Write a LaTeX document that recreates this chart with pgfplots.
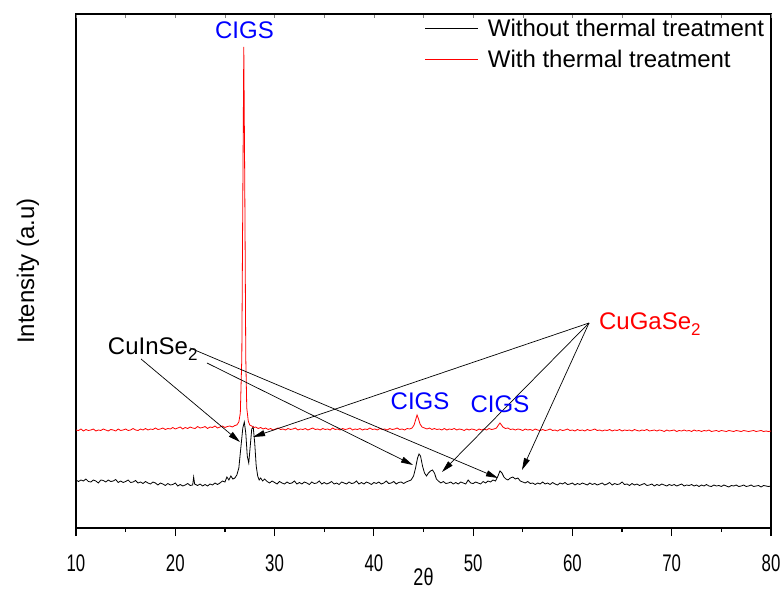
\documentclass[border=0pt]{standalone}
\usepackage{pgfplots}
\pgfplotsset{compat=1.18}
\usetikzlibrary{arrows.meta}
\usepackage{fontspec}
\setmainfont{Liberation Sans}
\definecolor{myblue}{RGB}{0,0,255}
\definecolor{myred}{RGB}{255,0,0}
\newcommand{\bigf}{\fontsize{24}{27}\selectfont}
\begin{document}
\begin{tikzpicture}
\begin{axis}[name=ax, scale only axis, width=695pt, height=514pt,
  xmin=10, xmax=80, ymin=0, ymax=514,
  ytick=\empty,
  xtick={10,20,...,80}, minor xtick={15,25,...,75},
  xtick pos=left, tick align=outside,
  major tick length=8pt, minor tick length=4pt,
  every tick/.style={black, line width=1.2pt},
  axis line style={line width=1.5pt},
  /pgf/number format/assume math mode=true,
  xticklabel={\scalebox{0.7}[1]{\pgfmathprintnumber{\tick}}},
  xticklabel style={font=\bigf, inner sep=0pt, yshift=-19pt},
  xlabel={\scalebox{0.75}[1]{2θ}},
  xlabel style={font=\bigf, inner sep=0pt, at={(axis description cs:0.5,-0.111)}, anchor=base},
  ylabel={Intensity (a.u)},
  ylabel style={font=\bigf, inner sep=0pt, at={(axis description cs:-0.069,0.5)}, anchor=center},
  legend style={draw=none, fill=none, at={(0.502,0.993)}, anchor=north west,
    font=\bigf, row sep=10pt, inner sep=0pt, nodes={inner sep=1pt},
    /tikz/every odd column/.append style={column sep=8pt}},
  legend cell align=left,
  legend image code/.code={\draw[#1, line width=0.8pt] (0pt,0pt) -- (53pt,0pt);},
]
\addplot[black, line width=0.8pt] coordinates {
(10.0,48) (10.25,46.5) (10.5,48) (10.75,47) (11.0,49) (11.25,46.5) (11.5,46) (11.75,48) (12.0,47) (12.25,45) (12.5,48) (12.75,47.5) (13.0,46) (13.25,48) (13.5,46.5) (13.75,47) (14.0,48.5) (14.25,45.5) (14.5,47) (14.75,45.5) (15.0,46.5) (15.25,48) (15.5,45.5) (15.75,46) (16.0,47.5) (16.25,45) (16.5,46) (16.75,44.5) (17.0,46.5) (17.25,45) (17.5,44) (17.75,46) (18.0,45) (18.25,43) (18.5,45) (18.75,44) (19.0,42.5) (19.25,44.5) (19.5,43) (19.75,43.5) (20.0,45) (20.25,42) (20.5,43.5) (20.75,42) (21.0,43) (21.25,44.5) (21.5,42.5) (21.75,43) (21.85,51) (21.95,44) (22.25,42.5) (22.5,44) (22.75,42) (23.0,43.5) (23.25,42) (23.5,44) (23.75,43) (24.0,45) (24.25,43.5) (24.5,45) (24.75,47) (25.0,46) (25.2,51) (25.4,48) (25.6,52) (25.8,49) (26.0,50) (26.2,53) (26.4,60) (26.6,80) (26.8,100) (26.95,106) (27.1,95) (27.25,72) (27.4,65) (27.55,82) (27.7,99) (27.85,101) (28.0,85) (28.15,62) (28.3,52) (28.45,48) (28.6,50) (28.8,47) (29.0,49) (29.25,46.5) (29.5,45) (29.75,47) (30.0,45.5) (30.25,44) (30.5,46.5) (30.75,45) (31.0,44) (31.25,46) (31.5,44.5) (31.75,45) (32.0,47) (32.25,44) (32.5,45.5) (32.75,44) (33.0,46) (33.25,45) (33.5,43.5) (33.75,46) (34.0,44.5) (34.25,45) (34.5,47) (34.75,44) (35.0,45.5) (35.25,44) (35.5,45) (35.75,46.5) (36.0,44) (36.25,45) (36.5,43.5) (36.75,46) (37.0,45) (37.25,44) (37.5,46) (37.75,44.5) (38.0,45) (38.25,47) (38.5,44) (38.75,45.5) (39.0,44) (39.25,46) (39.5,45) (39.75,43.5) (40.0,45.5) (40.25,44.5) (40.5,46) (40.75,44) (41.0,45) (41.25,47) (41.5,44.5) (41.75,45) (42.0,46.5) (42.25,44) (42.5,45.5) (42.75,46) (43.0,44.5) (43.25,46) (43.5,47) (43.75,48) (44.0,52) (44.2,60) (44.4,70) (44.55,74) (44.7,72) (44.9,62) (45.1,55) (45.3,52) (45.5,55) (45.7,57) (45.9,58) (46.1,55) (46.3,49) (46.5,47) (46.75,45) (47.0,46.5) (47.25,44.5) (47.5,45) (47.75,46) (48.0,44) (48.25,45.5) (48.5,44) (48.75,46) (49.0,45) (49.25,44) (49.5,48) (49.75,45) (50.0,44.5) (50.25,46) (50.5,45) (50.75,44) (51.0,46.5) (51.25,45) (51.5,47) (51.75,46) (52.0,48) (52.25,47) (52.5,52) (52.7,57) (52.9,55) (53.1,51) (53.3,49) (53.5,48) (53.75,50) (54.0,51) (54.25,49) (54.5,50) (54.75,47) (55.0,46) (55.25,45) (55.5,46.5) (55.75,44.5) (56.0,45) (56.25,43.5) (56.5,45) (56.75,44) (57.0,46) (57.25,44) (57.5,45) (57.75,43.5) (58.0,45.5) (58.25,44) (58.5,43) (58.75,45) (59.0,44) (59.25,45.5) (59.5,43.5) (59.75,44) (60.0,45) (60.25,43) (60.5,44.5) (60.75,43.5) (61.0,45) (61.25,44) (61.5,43) (61.75,45) (62.0,43.5) (62.25,44.5) (62.5,43) (62.75,44) (63.0,45) (63.25,43) (63.5,44) (63.75,45.5) (64.0,43) (64.25,44.5) (64.5,43.5) (64.75,44) (65.0,46) (65.25,43.5) (65.5,44) (65.75,42.5) (66.0,44.5) (66.25,43) (66.5,44) (66.75,42.5) (67.0,43.5) (67.25,44.5) (67.5,42.5) (67.75,43) (68.0,44) (68.25,42) (68.5,43.5) (68.75,42.5) (69.0,44) (69.25,43) (69.5,42) (69.75,43.5) (70.0,42.5) (70.25,43.5) (70.5,42) (70.75,43) (71.0,44) (71.25,42) (71.5,43) (71.75,42.5) (72.0,43.5) (72.25,42) (72.5,43) (72.75,41.5) (73.0,43) (73.25,42) (73.5,43.5) (73.75,42) (74.0,41.5) (74.25,43) (74.5,42) (74.75,42.5) (75.0,41.5) (75.25,43) (75.5,42) (75.75,41) (76.0,42.5) (76.25,42) (76.5,43) (76.75,41.5) (77.0,42) (77.25,43) (77.5,41.5) (77.75,42) (78.0,43) (78.25,41.5) (78.5,42) (78.75,42.5) (79.0,41) (79.25,42.5) (79.5,42) (79.75,41.5) (80.0,42)
};
\addlegendentry{Without thermal treatment}
\addplot[myred, line width=0.8pt] coordinates {
(10.0,98) (10.25,97.5) (10.5,99) (10.75,97) (11.0,98.5) (11.25,97.5) (11.5,98) (11.75,99) (12.0,97) (12.25,98) (12.5,97.5) (12.75,99) (13.0,98) (13.25,97) (13.5,98.5) (13.75,98) (14.0,97) (14.25,99) (14.5,97.5) (14.75,98) (15.0,99) (15.25,97.5) (15.5,98) (15.75,99.5) (16.0,98) (16.25,97.5) (16.5,99) (16.75,98) (17.0,99.5) (17.25,98) (17.5,99) (17.75,98.5) (18.0,100) (18.25,98.5) (18.5,99) (18.75,100) (19.0,98.5) (19.25,99.5) (19.5,99) (19.75,100.5) (20.0,99) (20.25,100) (20.5,101) (20.75,99) (21.0,100.5) (21.25,99.5) (21.5,101) (21.75,100) (22.0,99.5) (22.25,101.5) (22.5,100) (22.75,100.5) (23.0,101.5) (23.25,99.5) (23.5,101) (23.75,100.5) (24.0,102) (24.25,100) (24.5,101) (24.75,102) (25.0,100.5) (25.25,101.5) (25.5,102) (25.75,101) (26.0,102.5) (26.2,103) (26.4,106) (26.55,115) (26.7,170) (26.8,330) (26.9,481) (27.0,340) (27.1,170) (27.2,120) (27.35,107) (27.5,103) (27.7,102) (27.9,100.5) (28.1,101) (28.35,99.5) (28.6,100.5) (28.85,99) (29.1,100) (29.35,98.5) (29.6,99.5) (29.85,98) (30.1,99) (30.35,100) (30.6,98.5) (30.85,99) (31.1,98) (31.35,99.5) (31.6,98.5) (31.85,99) (32.1,100) (32.35,98) (32.6,99) (32.85,98.5) (33.1,99.5) (33.35,98) (33.6,99) (33.85,100) (34.1,98.5) (34.35,99) (34.6,98) (34.85,99.5) (35.1,98.5) (35.35,99) (35.6,98) (35.85,100) (36.1,98.5) (36.35,99) (36.6,98) (36.85,99.5) (37.1,98.5) (37.35,99) (37.6,100) (37.85,98) (38.1,99) (38.35,98.5) (38.6,99.5) (38.85,98) (39.1,99) (39.35,98.5) (39.6,100) (39.85,98.5) (40.1,99) (40.35,98) (40.6,99.5) (40.85,98.5) (41.1,99) (41.35,98) (41.6,99.5) (41.85,98.5) (42.1,99) (42.35,100) (42.6,98.5) (42.85,99) (43.1,98) (43.35,99.5) (43.6,99) (43.85,100) (44.05,103) (44.2,108) (44.35,113) (44.5,109) (44.65,104) (44.85,101) (45.1,100) (45.35,99) (45.6,100) (45.85,98.5) (46.1,99.5) (46.35,98.5) (46.6,99) (46.85,98) (47.1,99.5) (47.35,98) (47.6,99) (47.85,98.5) (48.1,99.5) (48.35,98) (48.6,99) (48.85,98.5) (49.1,97.5) (49.35,99) (49.6,98) (49.85,99) (50.1,98.5) (50.35,97.5) (50.6,99) (50.85,98) (51.1,99) (51.35,98) (51.6,99.5) (51.85,98.5) (52.1,99) (52.35,100) (52.55,103) (52.7,105) (52.85,103) (53.0,101) (53.25,99.5) (53.5,100) (53.75,98.5) (54.0,99) (54.25,98) (54.5,99) (54.75,98.5) (55.0,97.5) (55.25,99) (55.5,98) (55.75,98.5) (56.0,97.5) (56.25,99) (56.5,98) (56.75,97.5) (57.0,98.5) (57.25,97.5) (57.5,98) (57.75,99) (58.0,97.5) (58.25,98) (58.5,97) (58.75,98.5) (59.0,97.5) (59.25,98) (59.5,99) (59.75,97.5) (60.0,98) (60.25,97) (60.5,98.5) (60.75,97.5) (61.0,98) (61.25,97) (61.5,98.5) (61.75,97.5) (62.0,98) (62.25,99) (62.5,97.5) (62.75,98) (63.0,97) (63.25,98) (63.5,97.5) (63.75,98.5) (64.0,97) (64.25,98) (64.5,97.5) (64.75,98.5) (65.0,97) (65.25,98) (65.5,97.5) (65.75,98) (66.0,97) (66.25,98.5) (66.5,97.5) (66.75,97) (67.0,98) (67.25,97.5) (67.5,98.5) (67.75,97) (68.0,97.5) (68.25,98) (68.5,97) (68.75,98) (69.0,97.5) (69.25,96.5) (69.5,98) (69.75,97) (70.0,97.5) (70.25,98) (70.5,96.5) (70.75,97.5) (71.0,97) (71.25,98) (71.5,97) (71.75,97.5) (72.0,96.5) (72.25,98) (72.5,97) (72.75,97.5) (73.0,96.5) (73.25,97.5) (73.5,97) (73.75,98) (74.0,96.5) (74.25,97) (74.5,97.5) (74.75,96.5) (75.0,97.5) (75.25,97) (75.5,96.5) (75.75,97.5) (76.0,97) (76.25,96.5) (76.5,97.5) (76.75,97) (77.0,96.5) (77.25,97.5) (77.5,97) (77.75,96.5) (78.0,97) (78.25,97.5) (78.5,96.5) (78.75,97) (79.0,97.5) (79.25,96.5) (79.5,97) (79.75,96.5) (80.0,97)
};
\addlegendentry{With thermal treatment}
% annotations
\draw[-{Triangle[length=12pt,width=6pt]}, line width=0.7pt] (axis cs:16.55,169) -- (axis cs:26.52,86);
\draw[-{Triangle[length=12pt,width=6pt]}, line width=0.7pt] (axis cs:21.48,180) -- (axis cs:52.50,50);
\draw[-{Triangle[length=12pt,width=6pt]}, line width=0.7pt] (axis cs:23.19,165) -- (axis cs:43.94,63);
\draw[-{Triangle[length=12pt,width=6pt]}, line width=0.7pt] (axis cs:61.67,205) -- (axis cs:27.83,91);
\draw[-{Triangle[length=12pt,width=6pt]}, line width=0.7pt] (axis cs:61.67,205) -- (axis cs:46.86,56);
\draw[-{Triangle[length=12pt,width=6pt]}, line width=0.7pt] (axis cs:61.67,205) -- (axis cs:54.92,58);
\node[anchor=base west, font=\bigf, inner sep=0pt] at (axis cs:13.2,173) {CuInSe\raisebox{-0.45ex}{\fontsize{17}{18}\selectfont 2}};
\node[anchor=base west, font=\bigf, inner sep=0pt, text=myred] at (axis cs:62.67,198) {CuGaSe\raisebox{-0.45ex}{\fontsize{17}{18}\selectfont 2}};
\node[anchor=base, font=\bigf, inner sep=0pt, text=myblue] at (axis cs:26.97,489) {CIGS};
\node[anchor=base, font=\bigf, inner sep=0pt, text=myblue] at (axis cs:44.65,118) {CIGS};
\node[anchor=base, font=\bigf, inner sep=0pt, text=myblue] at (axis cs:52.70,115) {CIGS};
\end{axis}
\begin{axis}[scale only axis, width=695pt, height=514pt,
  xmin=10, xmax=80, ymin=0, ymax=514,
  axis x line*=top, hide y axis,
  xtick={10,15,...,80}, xticklabels={}, tick align=inside,
  major tick length=4pt, every tick/.style={gray, line width=0.5pt},
  axis line style={line width=1.5pt}]
\end{axis}
\pgfresetboundingbox
\path ([xshift=-76pt,yshift=-65pt]ax.south west) rectangle ([xshift=13pt,yshift=14pt]ax.north east);
\end{tikzpicture}
\end{document}
